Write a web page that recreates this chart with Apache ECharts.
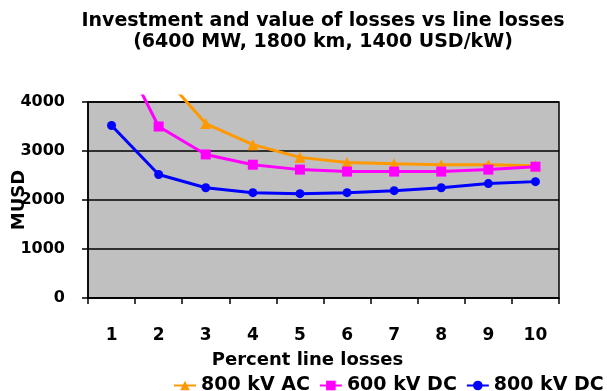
<!DOCTYPE html>
<html>
<head>
<meta charset="utf-8">
<script src="https://cdn.jsdelivr.net/npm/echarts@6/dist/echarts.min.js"></script>
<style>html,body{margin:0;padding:0;background:#fff}#c{width:607px;height:391px}</style>
</head>
<body>
<div id="c"></div>
<script>
// ---- data ----
const xLabels = ['1','2','3','4','5','6','7','8','9','10'];
const xValues = [1,2,3,4,5,6,7,8,9,10];
const ac800 = [null, 4650, 3560, 3130, 2870, 2765, 2740, 2720, 2720, 2700];
const dc600 = [5400, 3500, 2930, 2720, 2620, 2580, 2580, 2580, 2620, 2680];
const dc800 = [3520, 2520, 2250, 2150, 2130, 2150, 2190, 2250, 2335, 2375];
const yTicks = [0, 1000, 2000, 3000, 4000];
const seriesNames = ['800 kV AC', '600 kV DC', '800 kV DC'];

// ---- layout ----
const W = 607, H = 391;
const G = {left: 88, right: 48, top: 102, bottom: 93};
const clipTop = 96;
const plotH = H - G.top - G.bottom;
const clipH = H - clipTop - G.bottom;
const yMaxA = yTicks[yTicks.length - 1];
const yMaxB = yMaxA * clipH / plotH;
const FONT = 'DejaVu Sans';

function pairs(vals) { return xValues.map((x, i) => [x, vals[i]]); }

const chart = echarts.init(document.getElementById('c'), null, {renderer: 'canvas'});
chart.setOption({
  animation: false,
  backgroundColor: '#ffffff',
  title: {
    text: 'Investment and value of losses vs line losses\n(6400 MW, 1800 km, 1400 USD/kW)',
    left: 318, top: 6, textAlign: 'center',
    textStyle: {fontFamily: FONT, fontWeight: 'bold', fontSize: 19, lineHeight: 21, color: '#000'}
  },
  legend: {
    data: seriesNames,
    left: 168, top: 371, width: 445, orient: 'horizontal',
    itemWidth: 22, itemHeight: 12, itemGap: 9,
    textStyle: {fontFamily: FONT, fontWeight: 'bold', fontSize: 19, color: '#000'}
  },
  grid: [
    {left: G.left, right: G.right, top: G.top, bottom: G.bottom, show: true,
     containLabel: false, outerBoundsMode: 'none',
     backgroundColor: '#C0C0C0', borderColor: '#000', borderWidth: 1.5},
    {left: G.left, right: G.right, top: clipTop, bottom: G.bottom, show: false,
     containLabel: false, outerBoundsMode: 'none'}
  ],
  xAxis: [
    {type: 'category', gridIndex: 0, data: xLabels, boundaryGap: true,
     name: 'Percent line losses', nameLocation: 'middle', nameGap: 53, nameMoveOverlap: false,
     nameTextStyle: {fontFamily: FONT, fontWeight: 'bold', fontSize: 18, color: '#000', padding: [0, 32, 0, 0]},
     axisLine: {lineStyle: {color: '#000', width: 1.5}},
     axisTick: {show: true, length: 6, inside: false, lineStyle: {color: '#000', width: 1.5}},
     axisLabel: {margin: 29, fontFamily: FONT, fontWeight: 'bold', fontSize: 17, color: '#000'},
     splitLine: {show: false}},
    {type: 'value', gridIndex: 1, min: 0.5, max: 10.5, show: false}
  ],
  yAxis: [
    {type: 'value', gridIndex: 0, min: 0, max: yMaxA, interval: 1000,
     name: 'MUSD', nameLocation: 'middle', nameGap: 60, nameRotate: 90, nameMoveOverlap: false,
     nameTextStyle: {fontFamily: FONT, fontWeight: 'bold', fontSize: 18, color: '#000'},
     axisLine: {show: true, lineStyle: {color: '#000', width: 1.5}},
     axisTick: {show: true, length: 6, inside: false, lineStyle: {color: '#000', width: 1.5}},
     axisLabel: {margin: 23, fontFamily: FONT, fontWeight: 'bold', fontSize: 16, color: '#000',
                 formatter: v => String(v)},
     splitLine: {show: true, lineStyle: {color: '#000', width: 1.5}}},
    {type: 'value', gridIndex: 1, min: 0, max: yMaxB, show: false, splitLine: {show: false}}
  ],
  series: [
    {name: seriesNames[0], type: 'line', xAxisIndex: 1, yAxisIndex: 1, clip: true,
     data: pairs(ac800), color: '#FF9900', lineStyle: {width: 3},
     symbol: 'triangle', symbolSize: 11, itemStyle: {color: '#FF9900'}, z: 3},
    {name: seriesNames[1], type: 'line', xAxisIndex: 1, yAxisIndex: 1, clip: true,
     data: pairs(dc600), color: '#FF00FF', lineStyle: {width: 3},
     symbol: 'rect', symbolSize: 10, itemStyle: {color: '#FF00FF'}, z: 4},
    {name: seriesNames[2], type: 'line', xAxisIndex: 1, yAxisIndex: 1, clip: true,
     data: pairs(dc800), color: '#0000FF', lineStyle: {width: 3},
     symbol: 'circle', symbolSize: 9, itemStyle: {color: '#0000FF'}, z: 5}
  ]
});
</script>
</body>
</html>
